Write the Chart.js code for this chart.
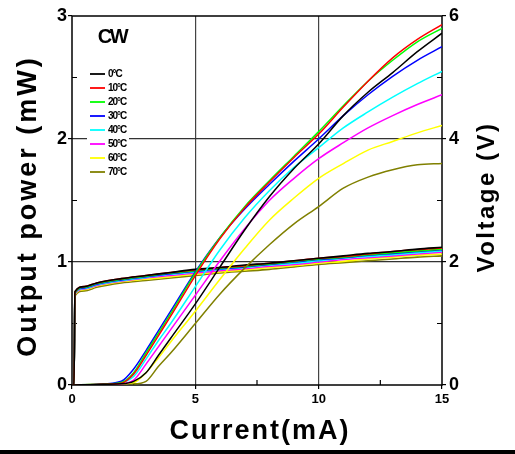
<!DOCTYPE html>
<html>
<head>
<meta charset="utf-8">
<script src="https://cdn.jsdelivr.net/npm/chart.js@4.4.1/dist/chart.umd.min.js"></script>
<style>
  html, body { margin: 0; padding: 0; background: #fff; }
  canvas { display: block; }
</style>
</head>
<body>
<canvas id="liChart" width="515" height="454"></canvas>
<script>
// ===== DATA =====
const temps = ['0°C', '10°C', '20°C', '30°C', '40°C', '50°C', '60°C', '70°C'];
const colors = ['#000000', '#ff0000', '#00ff00', '#0000ff', '#00ffff', '#ff00ff', '#ffff00', '#808000'];

// current (mA) for the L-I curves
const currentP = [0, 1, 2, 2.5, 3, 3.5, 4, 5, 6, 7, 8, 9, 10, 11, 12, 13, 14, 15];
// output power (mW)
const p0  = [0, 0.005, 0.01, 0.03, 0.10, 0.24, 0.38, 0.66, 0.96, 1.26, 1.53, 1.76, 1.96, 2.19, 2.38, 2.54, 2.71, 2.86];
const p10 = [0, 0.005, 0.015, 0.09, 0.24, 0.40, 0.56, 0.89, 1.19, 1.44, 1.65, 1.85, 2.04, 2.26, 2.47, 2.66, 2.81, 2.93];
const p20 = [0, 0.005, 0.02, 0.10, 0.26, 0.42, 0.58, 0.91, 1.20, 1.45, 1.66, 1.86, 2.06, 2.27, 2.47, 2.64, 2.79, 2.90];
const p30 = [0, 0.005, 0.03, 0.13, 0.28, 0.44, 0.60, 0.92, 1.20, 1.43, 1.63, 1.82, 2.00, 2.19, 2.36, 2.51, 2.64, 2.75];
const p40 = [0, 0.005, 0.02, 0.07, 0.21, 0.36, 0.50, 0.80, 1.10, 1.36, 1.58, 1.77, 1.93, 2.09, 2.22, 2.34, 2.45, 2.55];
const p50 = [0, 0.005, 0.01, 0.04, 0.17, 0.31, 0.45, 0.73, 1.01, 1.27, 1.50, 1.68, 1.84, 1.97, 2.09, 2.19, 2.28, 2.36];
const p60 = [0, 0.005, 0.01, 0.02, 0.10, 0.22, 0.35, 0.60, 0.86, 1.11, 1.34, 1.52, 1.68, 1.80, 1.91, 1.98, 2.05, 2.11];
const p70 = [0, 0.005, 0.01, 0.01, 0.03, 0.15, 0.26, 0.50, 0.74, 0.95, 1.14, 1.31, 1.45, 1.60, 1.69, 1.75, 1.79, 1.80];

// current (mA) for the V-I curves
const currentV = [0, 0.08, 0.12, 0.5, 1, 2, 3, 4, 5, 6, 7, 8, 9, 10, 11, 12, 13, 14, 15];
// voltage (V)
const v0  = [0, 0, 1.52, 1.60, 1.66, 1.73, 1.78, 1.83, 1.88, 1.91, 1.95, 1.98, 2.02, 2.06, 2.10, 2.14, 2.17, 2.21, 2.24];
const v10 = [0, 0, 1.51, 1.60, 1.66, 1.73, 1.78, 1.83, 1.87, 1.91, 1.94, 1.98, 2.02, 2.06, 2.09, 2.13, 2.17, 2.20, 2.23];
const v20 = [0, 0, 1.50, 1.59, 1.65, 1.72, 1.77, 1.82, 1.86, 1.90, 1.93, 1.97, 2.01, 2.05, 2.08, 2.12, 2.15, 2.18, 2.21];
const v30 = [0, 0, 1.50, 1.58, 1.64, 1.71, 1.76, 1.81, 1.85, 1.89, 1.92, 1.96, 2.00, 2.04, 2.07, 2.11, 2.14, 2.17, 2.20];
const v40 = [0, 0, 1.49, 1.57, 1.63, 1.70, 1.75, 1.80, 1.84, 1.88, 1.91, 1.95, 1.98, 2.02, 2.06, 2.09, 2.12, 2.15, 2.18];
const v50 = [0, 0, 1.48, 1.56, 1.62, 1.69, 1.74, 1.78, 1.82, 1.86, 1.89, 1.93, 1.96, 2.00, 2.04, 2.07, 2.10, 2.13, 2.16];
const v60 = [0, 0, 1.47, 1.55, 1.61, 1.68, 1.72, 1.76, 1.80, 1.84, 1.87, 1.91, 1.94, 1.98, 2.01, 2.05, 2.08, 2.11, 2.13];
const v70 = [0, 0, 1.45, 1.53, 1.59, 1.66, 1.70, 1.74, 1.78, 1.82, 1.85, 1.88, 1.92, 1.96, 1.99, 2.02, 2.05, 2.08, 2.10];

// axis ticks
const xTicksMinor = [2.5, 7.5, 12.5];
const yTicksMinor = [0.5, 1.5, 2.5];
const y2TicksMinor = [1, 3, 5];

const powerSeries = [p0, p10, p20, p30, p40, p50, p60, p70];
const voltSeries = [v0, v10, v20, v30, v40, v50, v60, v70];

const toPoints = (xs, ys) => xs.map((x, i) => ({ x: x, y: ys[i] }));

const datasets = [];
powerSeries.forEach((s, i) => {
  datasets.push({
    label: temps[i], kind: 'power', yAxisID: 'y',
    data: toPoints(currentP, s),
    borderColor: colors[i], borderWidth: 1.5,
    pointRadius: 0, cubicInterpolationMode: 'monotone', fill: false
  });
});
voltSeries.forEach((s, i) => {
  datasets.push({
    label: temps[i] + ' V', kind: 'volt', yAxisID: 'y2',
    data: toPoints(currentV, s),
    borderColor: colors[i], borderWidth: 1.6,
    pointRadius: 0, cubicInterpolationMode: 'monotone', fill: false
  });
});

const sans = "'Liberation Sans', Arial, sans-serif";

// ===== PLUGINS =====
const framePlugin = {
  id: 'frame',
  beforeDatasetsDraw(chart) {
    const { ctx, chartArea: a, scales } = chart;
    ctx.save();
    ctx.strokeStyle = '#000';
    ctx.lineWidth = 1.5;
    ctx.strokeRect(a.left, a.top, a.right - a.left, a.bottom - a.top);
    ctx.lineWidth = 1.2;
    ctx.beginPath();
    xTicksMinor.forEach(v => {
      const px = scales.x.getPixelForValue(v);
      ctx.moveTo(px, a.bottom); ctx.lineTo(px, a.bottom - 5);
    });
    yTicksMinor.forEach(v => {
      const py = scales.y.getPixelForValue(v);
      ctx.moveTo(a.left, py); ctx.lineTo(a.left + 5, py);
    });
    y2TicksMinor.forEach(v => {
      const py = scales.y2.getPixelForValue(v);
      ctx.moveTo(a.right, py); ctx.lineTo(a.right - 5, py);
    });
    ctx.stroke();
    ctx.restore();
  },
  afterDatasetsDraw(chart) {
    const ctx = chart.ctx;
    ctx.save();
    // legend
    ctx.fillStyle = '#fff';
    ctx.fillRect(87, 66, 42, 112);
    const items = chart.data.datasets.filter(d => d.kind === 'power');
    items.forEach((d, i) => {
      const y = 74 + i * 14;
      ctx.strokeStyle = d.borderColor;
      ctx.lineWidth = 1.8;
      ctx.beginPath(); ctx.moveTo(90, y); ctx.lineTo(105, y); ctx.stroke();
      ctx.fillStyle = '#000';
      ctx.font = 'bold 10px ' + sans;
      ctx.textAlign = 'left';
      ctx.textBaseline = 'middle';
      ctx.letterSpacing = '-1px';
      ctx.fillText(d.label, 108, y + 0.5);
    });
    ctx.letterSpacing = '-2.5px';
    ctx.font = 'bold 20px ' + sans;
    ctx.textAlign = 'center';
    ctx.fillText('CW', 112, 37);

    // axis titles
    ctx.fillStyle = '#000';
    ctx.textAlign = 'center';
    ctx.textBaseline = 'middle';
    ctx.font = 'bold 27px ' + sans;
    ctx.letterSpacing = '2px';
    ctx.fillText('Current(mA)', 260, 432);

    ctx.save();
    ctx.translate(29, 206);
    ctx.rotate(-Math.PI / 2);
    ctx.letterSpacing = '3px';
    ctx.fillText('Output power (mW)', 0, 0);
    ctx.restore();

    ctx.save();
    ctx.translate(487, 197);
    ctx.rotate(-Math.PI / 2);
    ctx.font = 'bold 24px ' + sans;
    ctx.letterSpacing = '2.5px';
    ctx.fillText('Voltage (V)', 0, 0);
    ctx.restore();

    // bottom rule
    ctx.fillStyle = '#000';
    ctx.fillRect(0, 450, chart.width, 4);
    ctx.restore();
  }
};

// ===== CHART =====
new Chart(document.getElementById('liChart'), {
  type: 'line',
  data: { datasets: datasets },
  plugins: [framePlugin],
  options: {
    responsive: false,
    animation: false,
    devicePixelRatio: 1,
    layout: { padding: { top: 16, left: 0, right: 0, bottom: 0 } },
    plugins: { legend: { display: false }, tooltip: { enabled: false } },
    scales: {
      x: {
        type: 'linear', min: 0, max: 15,
        afterFit: s => { s.height = 69; },
        ticks: {
          stepSize: 5, autoSkip: false, maxRotation: 0, padding: 3,
          color: '#000', font: { family: sans, size: 13, weight: 'bold' }
        },
        grid: {
          color: c => (c.tick && (c.tick.value === 5 || c.tick.value === 10)) ? '#444' : 'rgba(0,0,0,0)',
          tickColor: '#000', tickLength: 4, lineWidth: 1.2
        },
        border: { display: false }
      },
      y: {
        position: 'left', min: 0, max: 3,
        afterFit: s => { s.width = 72; },
        ticks: {
          stepSize: 1, padding: 1,
          color: '#000', font: { family: sans, size: 18, weight: 'bold' }
        },
        grid: {
          color: c => (c.tick && (c.tick.value === 1 || c.tick.value === 2)) ? '#333' : 'rgba(0,0,0,0)',
          tickColor: '#000', tickLength: 4, lineWidth: 1.2
        },
        border: { display: false }
      },
      y2: {
        position: 'right', min: 0, max: 6,
        afterFit: s => { s.width = 73; },
        ticks: {
          stepSize: 2, padding: 3,
          color: '#000', font: { family: sans, size: 18, weight: 'bold' }
        },
        grid: { drawOnChartArea: false, tickColor: '#000', tickLength: 4, lineWidth: 1.2 },
        border: { display: false }
      }
    }
  }
});
</script>
</body>
</html>
